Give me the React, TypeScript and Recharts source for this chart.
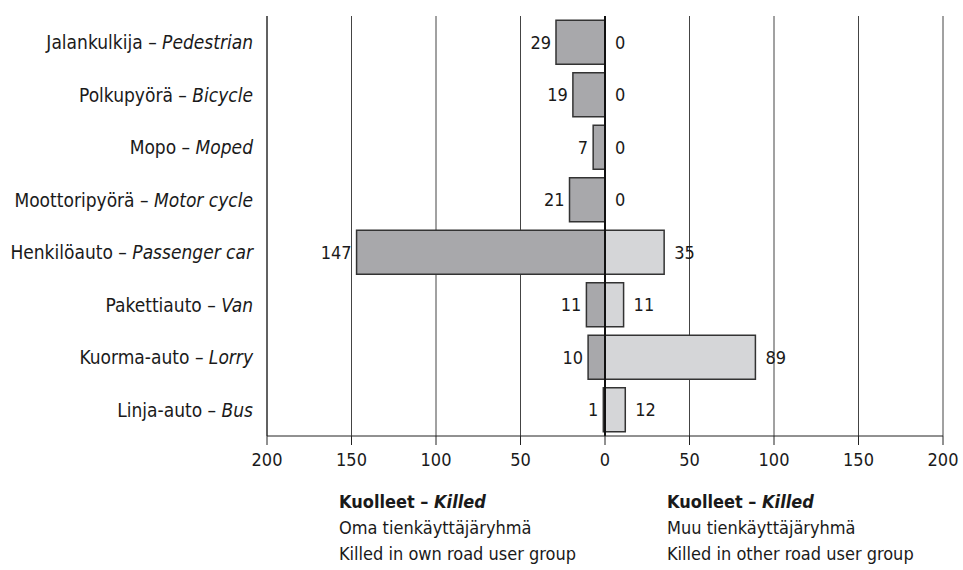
import { Bar, BarChart, CartesianGrid, LabelList, ReferenceLine, XAxis, YAxis } from "recharts"

const FONT = "'DejaVu Sans Condensed', 'DejaVu Sans', sans-serif"

const categoriesFi = [
  "Jalankulkija",
  "Polkupyörä",
  "Mopo",
  "Moottoripyörä",
  "Henkilöauto",
  "Pakettiauto",
  "Kuorma-auto",
  "Linja-auto",
]
const categoriesEn = [
  "Pedestrian",
  "Bicycle",
  "Moped",
  "Motor cycle",
  "Passenger car",
  "Van",
  "Lorry",
  "Bus",
]
const killedOwnGroup = [29, 19, 7, 21, 147, 11, 10, 1]
const killedOtherGroup = [0, 0, 0, 0, 35, 11, 89, 12]
const xTicks = [-200, -150, -100, -50, 0, 50, 100, 150, 200]

const data = categoriesFi.map((fi, i) => ({
  name: fi,
  en: categoriesEn[i],
  own: -killedOwnGroup[i],
  other: killedOtherGroup[i],
}))

const CategoryTick = (props: any) => {
  const { x, y, payload } = props
  const en = categoriesEn[categoriesFi.indexOf(payload.value)]
  return (
    <text
      x={x}
      y={y}
      textAnchor="end"
      dominantBaseline="central"
      fill="#1a1a1a"
      fontSize={19}
      fontFamily={FONT}
    >
      <tspan>{payload.value} – </tspan>
      <tspan fontStyle="italic">{en}</tspan>
    </text>
  )
}

const valueText = (x: number, y: number, anchor: "start" | "end", value: number) => (
  <text
    x={x}
    y={y}
    textAnchor={anchor}
    dominantBaseline="central"
    fill="#1a1a1a"
    fontSize={18}
    fontFamily={FONT}
  >
    {value}
  </text>
)

// own-group label; also draws the "0" of the other group where that bar is empty
const OwnLabel = (props: any) => {
  const { x, y, width, height, value, index } = props
  const left = Math.min(x, x + width)
  const zero = Math.max(x, x + width)
  const other = killedOtherGroup[index]
  return (
    <g>
      {valueText(left - 5, y + height / 2, "end", Math.abs(value))}
      {other === 0 && valueText(zero + 10, y + height / 2, "start", other)}
    </g>
  )
}

const OtherLabel = (props: any) => {
  const { x, y, width, height, value } = props
  if (!value) return null
  const right = Math.max(x, x + width)
  return valueText(right + 10, y + height / 2, "start", value)
}

const noteStyle = {
  position: "absolute" as const,
  top: 489,
  fontFamily: FONT,
  fontSize: 18,
  lineHeight: "26px",
  color: "#1a1a1a",
}

export default function App() {
  return (
    <div
      style={{
        position: "absolute",
        left: 0,
        top: 0,
        width: 963,
        height: 570,
        background: "#fff",
      }}
    >
      <BarChart
        width={963}
        height={570}
        data={data}
        layout="vertical"
        stackOffset="sign"
        barCategoryGap="8%"
        margin={{ top: 16, right: 20, left: 0, bottom: 96 }}
      >
        <CartesianGrid horizontal={false} stroke="#444" strokeWidth={1} />
        <XAxis
          type="number"
          domain={[-200, 200]}
          ticks={xTicks}
          tickFormatter={(v: number) => String(Math.abs(v))}
          height={38}
          stroke="#222"
          tickSize={9}
          tickMargin={8}
          tick={{ fill: "#1a1a1a", fontSize: 18, fontFamily: FONT }}
          interval={0}
        />
        <YAxis
          type="category"
          dataKey="name"
          width={267}
          stroke="#222"
          tickLine={false}
          tickMargin={8}
          tick={<CategoryTick />}
          interval={0}
        />
        <Bar
          dataKey="own"
          stackId="a"
          fill="#a8a8ab"
          stroke="#333"
          strokeWidth={1.5}
          isAnimationActive={false}
        >
          <LabelList dataKey="own" content={<OwnLabel />} />
        </Bar>
        <Bar
          dataKey="other"
          stackId="a"
          fill="#d5d6d8"
          stroke="#333"
          strokeWidth={1.5}
          isAnimationActive={false}
        >
          <LabelList dataKey="other" content={<OtherLabel />} />
        </Bar>
        <ReferenceLine x={0} stroke="#111" strokeWidth={2} />
      </BarChart>
      <div style={{ ...noteStyle, left: 339 }}>
        <b>
          Kuolleet – <i>Killed</i>
        </b>
        <br />
        Oma tienkäyttäjäryhmä
        <br />
        Killed in own road user group
      </div>
      <div style={{ ...noteStyle, left: 667 }}>
        <b>
          Kuolleet – <i>Killed</i>
        </b>
        <br />
        Muu tienkäyttäjäryhmä
        <br />
        Killed in other road user group
      </div>
    </div>
  )
}
